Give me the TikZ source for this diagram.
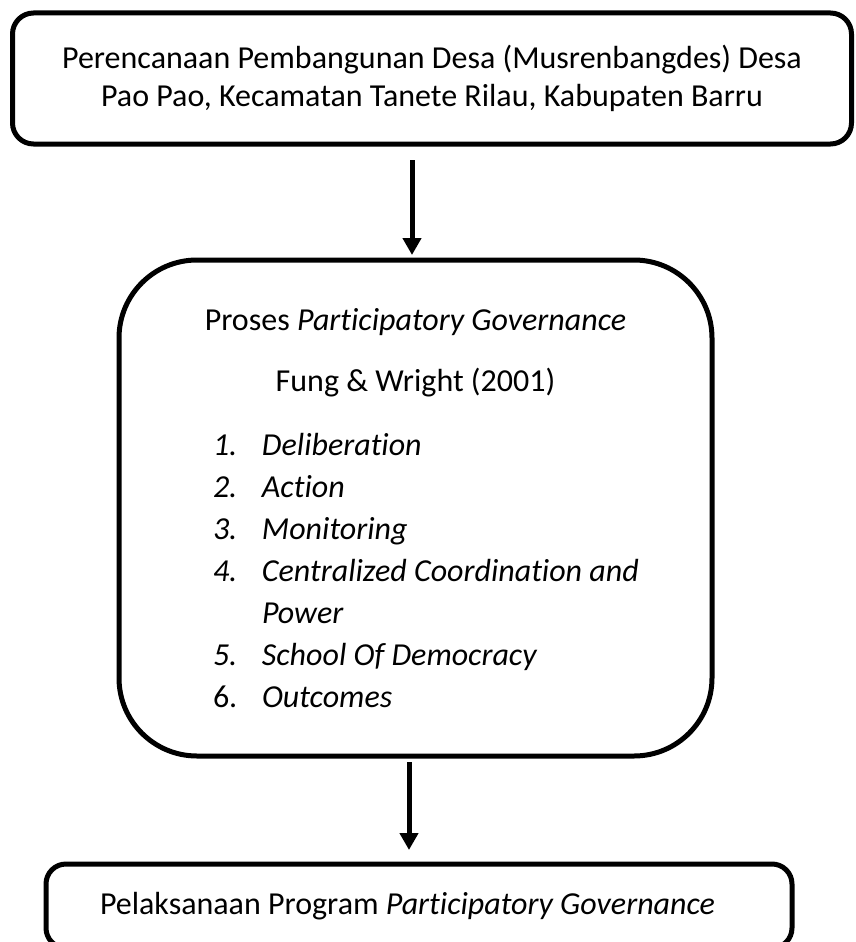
\documentclass[tikz,border=0pt]{standalone}
\usepackage{fontspec}
\setmainfont{Carlito}[Ligatures=NoCommon]
\usetikzlibrary{arrows.meta,positioning}
\newcommand\listitem[2]{\makebox[405pt][l]{\makebox[49pt][l]{#1}#2}}

\begin{document}
\begin{tikzpicture}[x=1pt,y=-1pt,>={Triangle[width=18pt,length=17pt]},
  box/.style={draw=black,line width=5pt,outer sep=0pt,inner sep=0pt,align=center,font=\fontsize{32}{38}\selectfont},
  flow/.style={->,line width=5pt}]
  \useasboundingbox (0,0) rectangle (856,942);
  \clip (0,0) rectangle (856,942);
  \node[box,rounded corners=21pt,minimum width=839pt,minimum height=131pt] (plan) at (432,78.5)
    {Perencanaan Pembangunan Desa (Musrenbangdes) Desa\\Pao Pao, Kecamatan Tanete Rilau, Kabupaten Barru};
  \node[box,rounded corners=78pt,minimum width=593pt,minimum height=496pt,font=\fontsize{32}{42}\selectfont,
    below=116pt of plan,xshift=-16.5pt] (process)
    {Proses \textit{Participatory Governance}\\[19pt]
     Fung \& Wright (2001)\\[22pt]
     \listitem{\textit{1.}}{\textit{Deliberation}}\\
     \listitem{\textit{2.}}{\textit{Action}}\\
     \listitem{\textit{3.}}{\textit{Monitoring}}\\
     \listitem{\textit{4.}}{\textit{Centralized Coordination and}}\\
     \listitem{}{\textit{Power}}\\
     \listitem{\textit{5.}}{\textit{School Of Democracy}}\\
     \listitem{6.}{\textit{Outcomes}}};
  \node[box,rounded corners=20pt,minimum width=746pt,minimum height=84pt,
    below=108pt of process,xshift=3.5pt] (result)
    {\makebox[638pt][l]{Pelaksanaan Program \textit{Participatory Governance}}};
  \draw[flow] ([xshift=-20pt,yshift=-16pt]plan.south) -- ([xshift=-3.5pt,yshift=5pt]process.north);
  \draw[flow] ([xshift=-6.5pt,yshift=-6pt]process.south) -- ([xshift=-10pt,yshift=14pt]result.north);
\end{tikzpicture}
\end{document}
